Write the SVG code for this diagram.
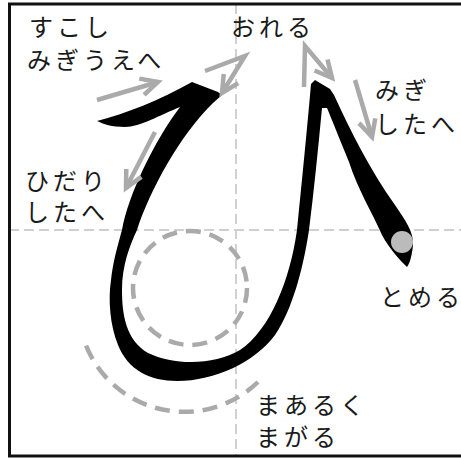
<svg xmlns="http://www.w3.org/2000/svg" width="461" height="459" viewBox="0 0 461 459">
<style>
.guide{fill:none;stroke:#d0d0d0;stroke-width:2;stroke-dasharray:10 5}
.arw{fill:none;stroke:#aaaaaa;stroke-width:4.5;stroke-linejoin:miter}
.dc{fill:none;stroke:#aaaaaa;stroke-width:4.5;stroke-dasharray:15 9}
.lbl{font-family:"Noto Sans CJK JP","Noto Sans",sans-serif;font-size:24px;letter-spacing:4px;fill:#1a1a1a}
</style>
<defs>
<marker id="ah" markerUnits="userSpaceOnUse" viewBox="-25 -15 30 30" markerWidth="30" markerHeight="30" refX="0" refY="0" orient="auto" overflow="visible">
<path d="M -17,-8.5 L 0,0 L -17,8.5" fill="none" stroke="#aaaaaa" stroke-width="4.5"/>
</marker>
</defs>
<rect x="0" y="0" width="461" height="459" fill="#ffffff"/>
<g id="guides">
<line class="guide" x1="9" y1="230" x2="461" y2="230"/>
<line class="guide" x1="236" y1="4" x2="236" y2="456"/>
</g>
<g id="circles">
<circle class="dc" cx="190" cy="288" r="57"/>
<path class="dc" d="M 258,382 A 106,106 0 0 1 85,343"/>
</g>
<g id="stroke-hi">
<path fill="#000000" d="M 97,121 C 125,114 160,100 192,82 L 218,92 L 222,95 L 213,103 C 180,135 150,190 137,230 C 130,245 122,265 122,290 C 122,315 126,340 148,353 C 175,366 215,365 240,350 C 270,330 290,280 297,230 C 302,180 307,130 311,84 L 315,80 L 330,89 L 334,95 C 350,130 370,170 395,205 C 405,220 414,232 413,245 C 412,255 410,263 407,267 C 400,260 390,250 382,235 C 372,212 358,190 349,162 C 340,140 332,120 327,108 L 322,108 C 318,150 314,190 309,230 C 303,270 292,310 275,335 C 255,362 215,381 177,381 C 150,381 128,370 118,345 C 110,325 108,300 111,280 C 113,262 117,248 122,230 C 128,195 155,140 180,107 C 160,115 140,127 125,127 C 112,127 103,124 97,121 Z"/>
<circle id="stop-dot" cx="402" cy="242" r="11" fill="#bbbbbb"/>
</g>
<g id="connectors">
<path class="arw" d="M 97,100 L 158,82" marker-end="url(#ah)"/>
<path class="arw" d="M 205,71 L 245,56 L 222,93" marker-end="url(#ah)"/>
<path class="arw" d="M 155,132 L 126,188" marker-end="url(#ah)"/>
<path class="arw" d="M 304,87 L 305,46 L 332,78" marker-end="url(#ah)"/>
<path class="arw" d="M 355,80 L 372,137" marker-end="url(#ah)"/>
</g>
<g id="label-sukoshi"><text class="lbl" x="29" y="36">すこし</text><text class="lbl" x="27" y="69">みぎうえへ</text></g>
<g id="label-oreru"><text class="lbl" x="231" y="36">おれる</text></g>
<g id="label-migi"><text class="lbl" x="375" y="99">みぎ</text><text class="lbl" x="375" y="133">したへ</text></g>
<g id="label-hidari"><text class="lbl" x="25" y="190">ひだり</text><text class="lbl" x="25" y="221">したへ</text></g>
<g id="label-tomeru"><text class="lbl" style="letter-spacing:0" x="380 408 436" y="306">とめる</text></g>
<g id="label-maru"><text class="lbl" x="256" y="414">まあるく</text><text class="lbl" x="256" y="446">まがる</text></g>
<rect x="9.5" y="4" width="460" height="452" fill="none" stroke="#111111" stroke-width="3"/>
</svg>
